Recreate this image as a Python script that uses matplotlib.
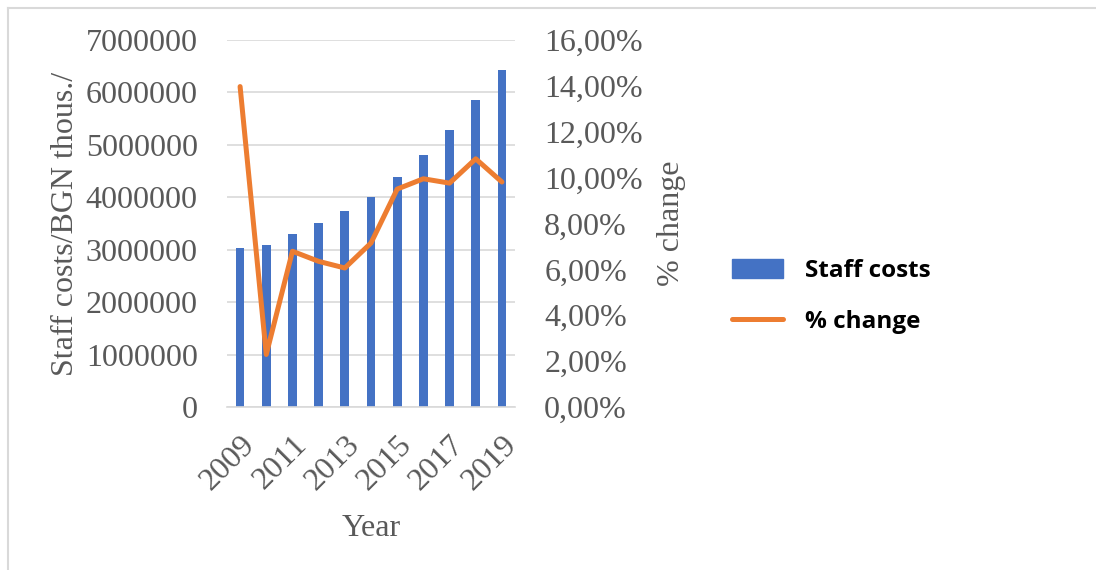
import numpy as np
import matplotlib
matplotlib.use('Agg')
from matplotlib import pyplot as plt
from matplotlib.lines import Line2D
from matplotlib.patches import Patch
from matplotlib.ticker import FuncFormatter

years = [2009, 2010, 2011, 2012, 2013, 2014, 2015, 2016, 2017, 2018, 2019]
staff_costs = [3027000, 3090000, 3306000, 3515000, 3731000, 4000000,
               4385000, 4810000, 5286000, 5850000, 6430000]
pct_change = [13.97, 2.29, 6.79, 6.35, 6.06, 7.15, 9.50, 9.95, 9.76, 10.82, 9.81]

blue = '#4472C4'
orange = '#ED7D31'
grey_txt = '#595959'
serif = ['Liberation Serif', 'DejaVu Serif']
fs = 23

fig = plt.figure(figsize=(10.96, 5.7), dpi=100)
ax = fig.add_axes([227/1096, 1-407/570, 288/1096, 367/570])
ax2 = ax.twinx()

x = np.arange(len(years))
ax.bar(x, staff_costs, width=0.33, color=blue, zorder=2)
ax2.plot(x, pct_change, color=orange, lw=3.6, solid_capstyle='round',
         solid_joinstyle='round', zorder=3)

ax.set_xlim(-0.5, len(years) - 0.5)
ax.set_ylim(0, 7000000)
ax.set_yticks(np.arange(0, 7000001, 1000000))
ax.yaxis.set_major_formatter(FuncFormatter(lambda v, p: '%d' % v))
ax2.set_ylim(0, 16)
ax2.set_yticks(np.arange(0, 16.1, 2))
ax2.yaxis.set_major_formatter(FuncFormatter(lambda v, p: ('%.2f%%' % v).replace('.', ',')))

ax.set_xticks(x[::2])
ax.set_xticklabels([str(y) for y in years[::2]], rotation=45, ha='right',
                   rotation_mode='anchor')

ax.grid(axis='y', color='#D9D9D9', lw=1.2, zorder=0)
ax.set_axisbelow(True)
for a in (ax, ax2):
    for s in a.spines.values():
        s.set_visible(False)
ax.spines['bottom'].set_visible(True)
ax.spines['bottom'].set_color('#D9D9D9')
ax.spines['bottom'].set_linewidth(1.2)

ax.tick_params(axis='y', length=0, pad=21, labelsize=fs, labelcolor=grey_txt)
ax.tick_params(axis='x', length=0, pad=17, labelsize=fs, labelcolor=grey_txt)
ax2.tick_params(axis='y', length=0, pad=21, labelsize=fs, labelcolor=grey_txt)
for lbl in ax.get_xticklabels() + ax.get_yticklabels() + ax2.get_yticklabels():
    lbl.set_family(serif)

ax.set_ylabel('Staff costs/BGN thous./', family=serif, fontsize=fs,
              color=grey_txt, labelpad=4)
ax2.set_ylabel('% change', family=serif, fontsize=fs, color=grey_txt,
               rotation=90, labelpad=10)
ax.set_xlabel('Year', family=serif, fontsize=fs, color=grey_txt, labelpad=13)

handles = [Patch(color=blue), Line2D([], [], color=orange, lw=3.6, solid_capstyle='round')]
fig.legend(handles, ['Staff costs', '% change'], loc='upper left',
           bbox_to_anchor=(710/1096, 1-237/570), frameon=False,
           prop={'family': ['Open Sans', 'DejaVu Sans'], 'weight': 'bold', 'size': 17.5},
           handlelength=2.1, handleheight=0.8, labelspacing=1.1, handletextpad=0.9)

# chart frame, cut off on the right and bottom
fig.add_artist(Line2D([8/1096, 8/1096], [0, 1-8/570], transform=fig.transFigure,
                      color='#D9D9D9', lw=1.5))
fig.add_artist(Line2D([8/1096, 1], [1-8/570, 1-8/570], transform=fig.transFigure,
                      color='#D9D9D9', lw=1.5))

fig.savefig('out.png', dpi=100)
